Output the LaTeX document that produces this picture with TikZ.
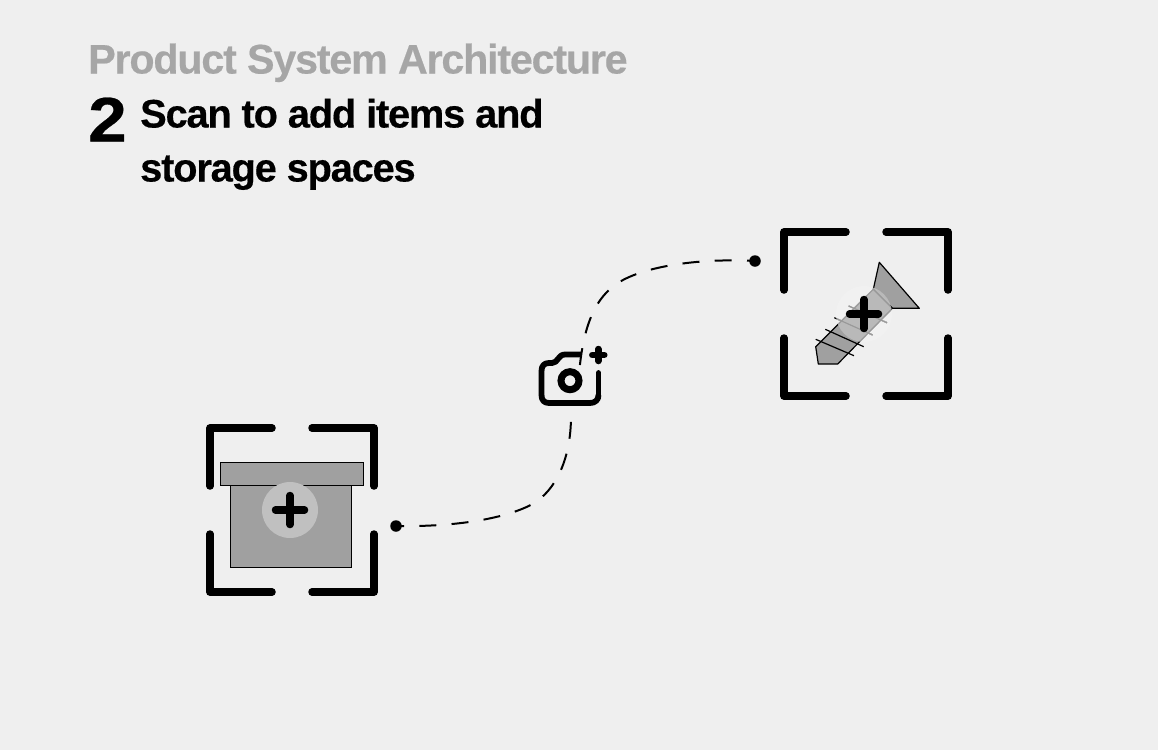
\documentclass[tikz,border=0pt]{standalone}
\usepackage{fontspec}
\setmainfont{Liberation Sans}[LetterSpace=-3, BoldFeatures={FakeBold=0.4}]
\usepackage{xcolor}
\usetikzlibrary{positioning, arrows.meta, calc}
\definecolor{pagebg}{RGB}{239,239,239}
\definecolor{partgray}{RGB}{160,160,160}
\definecolor{titlegray}{RGB}{166,166,166}
\definecolor{badgegray}{RGB}{192,192,192}
\definecolor{halogray}{RGB}{241,241,241}
\begin{document}
\begin{tikzpicture}[
        x=1pt, y=-1pt,
        title/.style={anchor=base west, inner sep=0pt, font=\fontsize{41.3}{41.3}\selectfont\bfseries},
        heading/.style={anchor=base west, inner sep=0pt, font=\fontsize{39.8}{39.8}\selectfont\bfseries, text=black},
        bracket/.style={line width=7.5pt, line cap=round, line join=round},
        part/.style={draw=black, line width=1.2pt, fill=partgray},
        badge/.style={fill=badgegray},
        cross/.style={line width=7.5pt, line cap=round},
        icon/.style={line width=5.8pt, line cap=round, line join=round},
        thread/.style={line width=1.2pt},
        dot/.style={circle, fill=black, inner sep=0pt, minimum size=11.5pt},
        link/.style={line width=2pt, dash pattern=on 17pt off 15.3pt, dash phase=9pt},
        scanframe/.pic={
            \draw[bracket] (-20,-82) -- (-82,-82) -- (-82,-24);
            \draw[bracket] (20,-82) -- (82,-82) -- (82,-24);
            \draw[bracket] (-82,24) -- (-82,82) -- (-20,82);
            \draw[bracket] (82,24) -- (82,82) -- (20,82);
        },
        addmark/.pic={
            \draw[cross] (-14.5,0) -- (14.5,0);
            \draw[cross] (0,-14.5) -- (0,14.5);
        }
    ]
    \useasboundingbox[fill=pagebg] (0,0) rectangle (1158,750);

    % Heading
    \node[title, text=titlegray] (title) at (88,73.5) {Product System Architecture};
    \node[heading, font=\fontsize{63}{63}\selectfont\bfseries, xscale=1.1, transform shape] (num) at (88,141.5) {2};
    \node[heading] (line1) at (140,127.5) {Scan to add items and};
    \node[heading] (line2) at (140,181.5) {storage spaces};

    % Storage box
    \pic at (292,510) {scanframe};
    \draw[part] (230.5,485.7) rectangle (351.7,567.5);
    \draw[part] (220.3,462.3) rectangle (363.7,485.7);
    \fill[badge] (290,510) circle (28);
    \pic at (290,510) {addmark};

    % Screw
    \pic at (866,314) {scanframe};
    \fill[halogray] (864,314) circle (28);
    \draw[part, line join=round] (873.3,289.3) -- (879.3,262.3) -- (919.3,308.3) -- (892.3,308.3) -- cycle;
    \draw[part, line join=round] (873.3,289.3) -- (815.7,346.7) -- (818.3,364) -- (837.7,364) -- (892.3,308.3) -- cycle;
    \draw[thread] (815.7,339.3) -- (854,355.7);
    \draw[thread] (825.3,329.3) -- (863.7,346.7);
    \draw[thread] (834.3,317.7) -- (872.7,335);
    \draw[thread] (848.7,306) -- (887,322.7);
    \fill[badge, blend mode=lighten, opacity=0.8] (864,314) circle (28);
    \pic at (864,314) {addmark};

    % Camera
    \draw[icon, line cap=butt] (581.7,354.5) -- (565,354.5) .. controls (558,354.5) and (558,363) .. (552,363)
        -- (549,363) .. controls (544,363) and (541.5,366) .. (541.5,371) -- (541.5,395)
        .. controls (541.5,400) and (544,403) .. (549,403) -- (590,403)
        .. controls (595,403) and (598.5,400) .. (598.5,395);
    \draw[icon] (598.5,395) -- (598.5,373);
    \node[circle, draw=black, line width=7pt, inner sep=0pt, minimum size=18pt] (lens) at (570,380.7) {};
    \draw[icon, line width=6.5pt] (592.3,355) -- (604.3,355);
    \draw[icon, line width=6.5pt] (598.3,349) -- (598.3,361);

    % Connectors
    \node[dot] (screwdot) at (755,261) {};
    \node[dot] (boxdot) at (396,526) {};
    \coordinate (camtop) at (579.7,367);
    \coordinate (cambottom) at (571,419);
    \draw[link] (screwdot.center) .. controls (700,258) and (648,266) .. (621.7,280.7)
        .. controls (600,293) and (585,316) .. (camtop);
    \draw[link] (boxdot.center) .. controls (450,527) and (500,520) .. (529.3,505.7)
        .. controls (550,495.7) and (570,468) .. (cambottom);
\end{tikzpicture}
\end{document}
